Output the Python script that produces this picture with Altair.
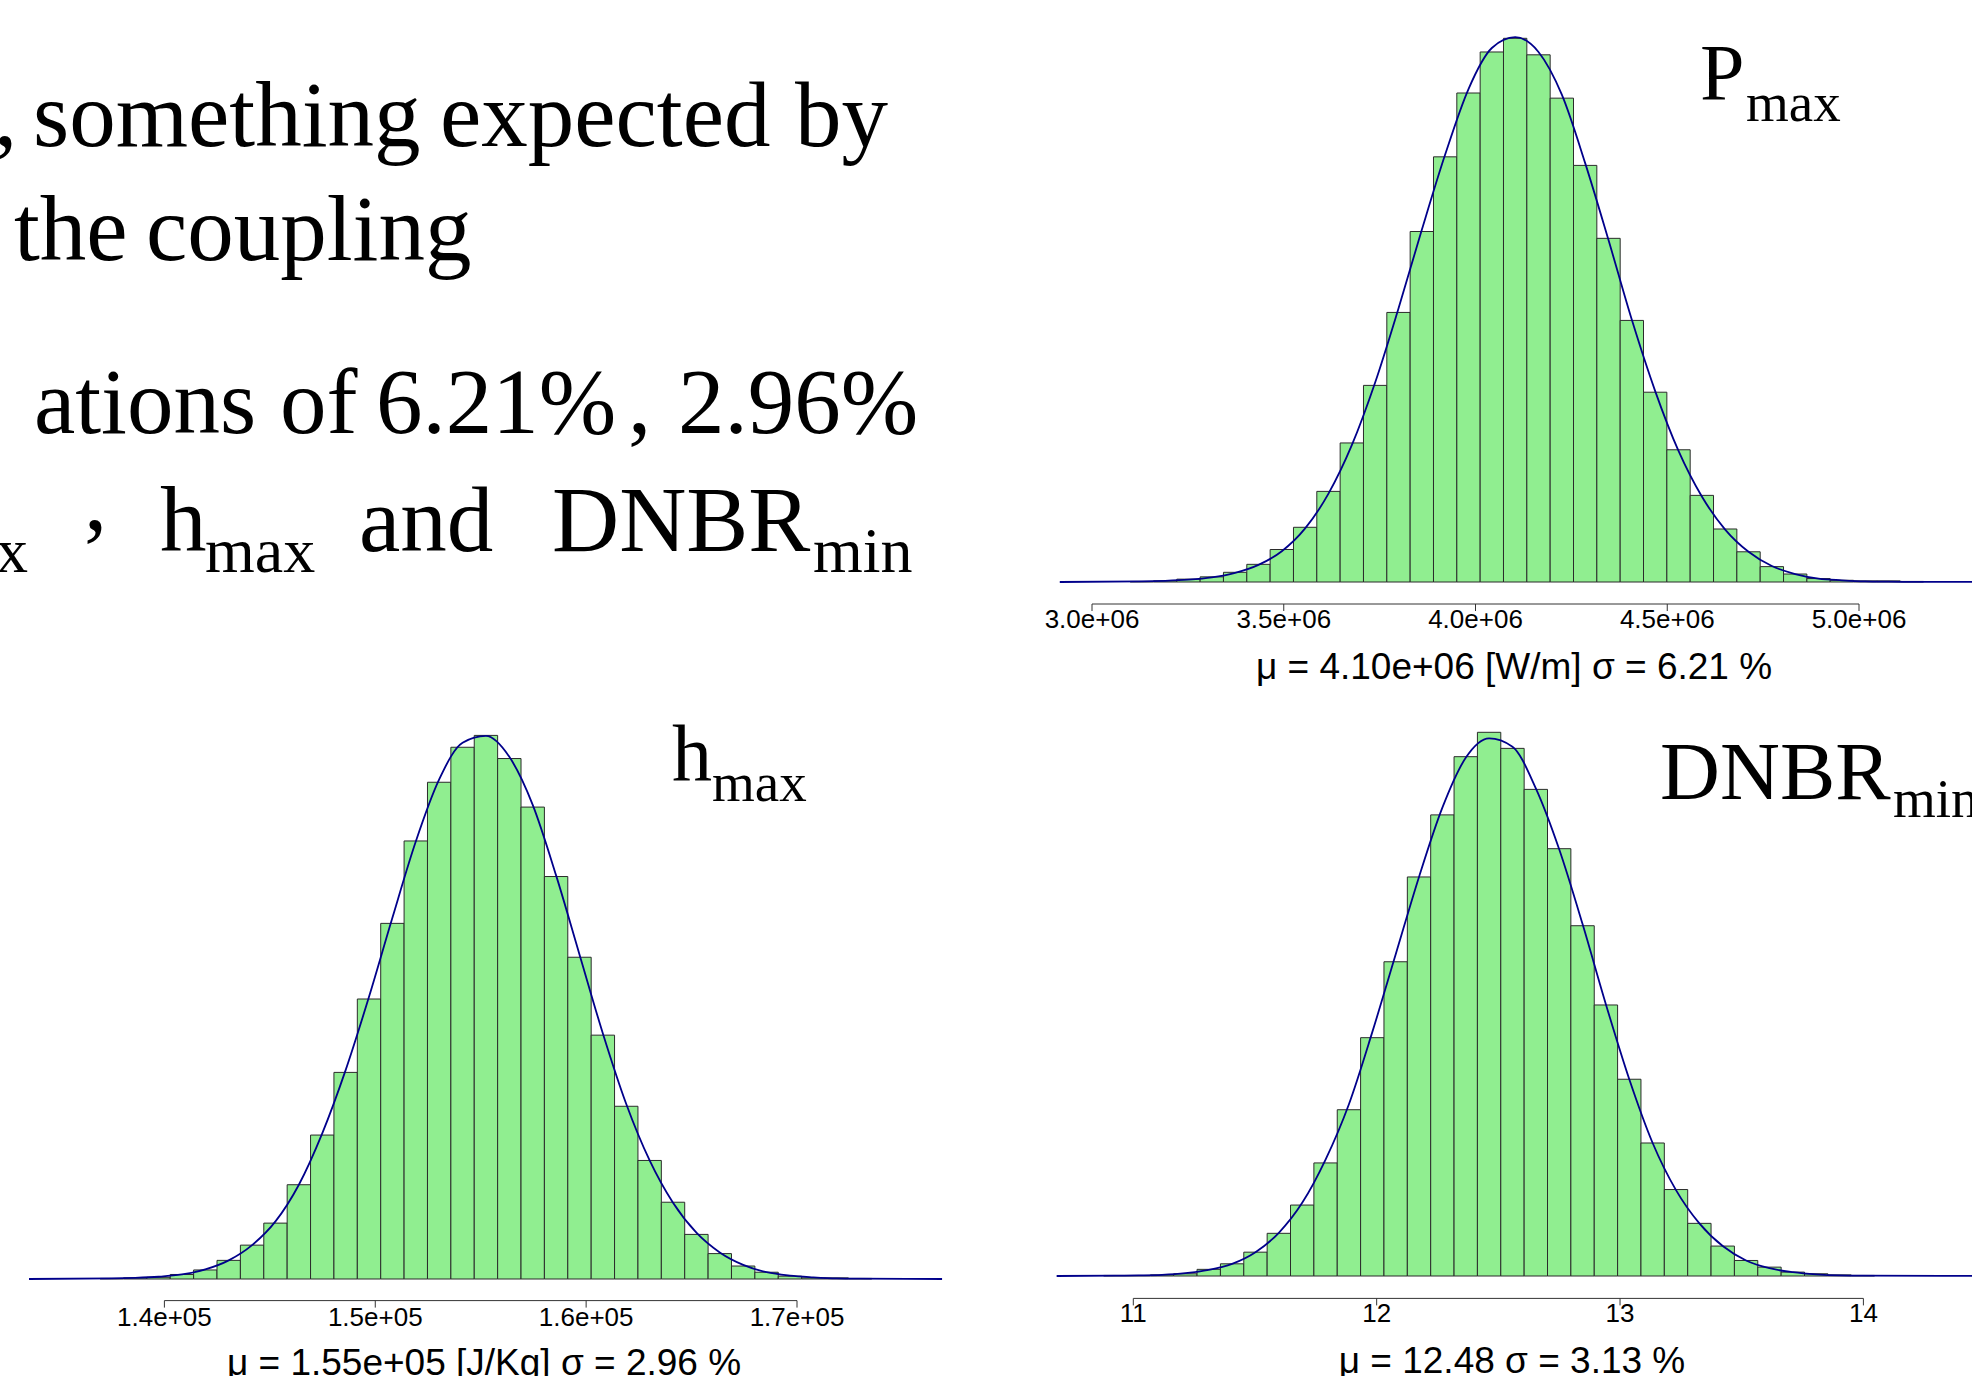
import altair as alt
import pandas as pd

# ---------------- slide text (top-left, cropped at the left edge) ----------------
slide_words = [",", "something", "expected", "by",
               "the", "coupling",
               "ations", "of", "6.21%", ",", "2.96%",
               "x", ",", "h", "max", "and", "DNBR", "min"]
# layout for each word: (left x, baseline y, font size)
slide_layout = [(-6, 146, 93), (33, 146, 93), (440, 146, 93), (795, 146, 93),
                (14, 260, 93), (146, 260, 93),
                (34, 433, 93), (280, 433, 93), (376, 433, 93), (628, 433, 93), (678, 433, 93),
                (-4, 572, 64), (84, 530, 93), (160, 551, 93), (205, 572, 64),
                (359, 551, 93), (552, 551, 93), (813, 572, 64)]

# ---------------- P_max histogram ----------------
pmax_bin_start = 3.0994e6
pmax_bin_width = 0.06085e6
pmax_counts = [1, 2, 5, 9, 17, 31, 57, 96, 159, 244, 345, 473, 615, 746, 858, 930, 954,
               925, 849, 731, 603, 459, 333, 232, 152, 93, 53, 27, 14, 6, 3, 2, 2, 1]
pmax_curve = [1, 2, 4, 8, 16, 30, 54, 94, 155, 240, 350, 480, 618, 750, 865, 937, 956,
              930, 855, 735, 600, 460, 335, 230, 150, 92, 53, 28, 14, 6, 3, 1, 0.5, 0.2]
pmax_curve_ends = [2.916e6, 5.45e6]
pmax_ticks = [3.0e6, 3.5e6, 4.0e6, 4.5e6, 5.0e6]
pmax_tick_labels = ["3.0e+06", "3.5e+06", "4.0e+06", "4.5e+06", "5.0e+06"]
pmax_stats = "\u03bc = 4.10e+06 [W/m] \u03c3 = 6.21 %"
pmax_title = ["P", "max"]

# ---------------- h_max histogram ----------------
hmax_bin_start = 1.3695e5
hmax_bin_width = 1109.0
hmax_counts = [1, 2, 3, 8, 16, 33, 60, 99, 167, 255, 366, 496, 630, 776, 880, 942, 963,
               922, 836, 713, 570, 432, 306, 210, 136, 79, 45, 23, 12, 5, 2, 2, 1]
hmax_curve = [1, 2, 4, 8, 17, 33, 60, 102, 167, 258, 370, 500, 640, 775, 885, 950, 962,
              925, 840, 715, 575, 435, 310, 210, 135, 82, 47, 25, 12, 6, 3, 1, 0.5]
hmax_curve_ends = [1.3358e5, 1.7688e5]
hmax_ticks = [1.4e5, 1.5e5, 1.6e5, 1.7e5]
hmax_tick_labels = ["1.4e+05", "1.5e+05", "1.6e+05", "1.7e+05"]
hmax_stats = "\u03bc = 1.55e+05 [J/Kg] \u03c3 = 2.96 %"
hmax_title = ["h", "max"]

# ---------------- DNBR_min histogram ----------------
dnbr_bin_start = 10.878
dnbr_bin_width = 0.0960
dnbr_counts = [1, 1, 2, 4, 12, 22, 43, 77, 128, 204, 300, 430, 567, 720, 832, 937, 981,
               952, 878, 771, 632, 489, 355, 240, 156, 95, 54, 28, 16, 7, 4, 2, 1]
dnbr_curve = [0.5, 1, 2, 5, 11, 22, 43, 78, 132, 210, 310, 440, 580, 720, 845, 935, 970,
              955, 880, 770, 635, 490, 355, 240, 155, 95, 54, 28, 14, 7, 3, 1, 0.5]
dnbr_curve_ends = [10.685, 14.6]
dnbr_ticks = [11, 12, 13, 14]
dnbr_tick_labels = ["11", "12", "13", "14"]
dnbr_stats = "\u03bc = 12.48  \u03c3 = 3.13 %"
dnbr_title = ["DNBR", "min"]

# ---------------- styles / layout ----------------
GREEN = "#90EE90"
BAR_STROKE = "#2b2b2b"
BLUE = "#00008B"
SERIF = "Liberation Serif"
SANS = "Liberation Sans"

pmax_layout = dict(size=(972, 705), xref=(3.0e6, 92.0, 5.0e6, 859.0),
                   yref=(582.0, 38.3, 954), axis_y=604.0, label_y=627.5,
                   stats_xy=(514, 679),
                   title_xy=[(700, 100, 80), (746, 121, 55)])
hmax_layout = dict(size=(1000, 671), xref=(1.4e5, 164.4, 1.7e5, 797.0),
                   yref=(574.0, 30.4, 963), axis_y=595.6, label_y=620.5,
                   stats_xy=(484, 670),
                   title_xy=[(672, 75, 80), (712, 96, 55)])
dnbr_layout = dict(size=(972, 671), xref=(11.0, 133.3, 14.0, 863.4),
                   yref=(571.0, 27.3, 981), axis_y=593.4, label_y=616.5,
                   stats_xy=(512, 668),
                   title_xy=[(660, 94, 83), (893, 112, 55)])


def text_piece(word, x, y, size, font, align="left"):
    return alt.Chart(pd.DataFrame({"t": [word]})).mark_text(
        font=font, fontSize=size, align=align, baseline="alphabetic",
        color="black", clip=True
    ).encode(x=alt.value(x), y=alt.value(y), text="t:N")


def hist_panel(start, bw, counts, curve, ends, ticks, labels, stats, title, lay):
    W, H = lay["size"]
    v1, p1, v2, p2 = lay["xref"]
    upp = (v2 - v1) / (p2 - p1)
    xs = alt.Scale(domain=[v1 - p1 * upp, v1 + (W - p1) * upp], nice=False, zero=False)
    base, top_px, top_count = lay["yref"]
    cpp = top_count / (base - top_px)
    ys = alt.Scale(domain=[(base - H) * cpp, base * cpp], nice=False, zero=False)

    n = len(counts)
    bars = pd.DataFrame({
        "lo": [start + i * bw for i in range(n)],
        "hi": [start + (i + 1) * bw for i in range(n)],
        "count": counts,
        "zero": [0] * n,
    })
    curve_df = pd.DataFrame({
        "x": [ends[0]] + [start + (i + 0.5) * bw for i in range(n)] + [ends[1]],
        "y": [0] + list(curve) + [0],
    })
    tick_df = pd.DataFrame({"v": ticks, "label": labels})
    span_df = pd.DataFrame({"a": [ticks[0]], "b": [ticks[-1]]})

    layers = [
        alt.Chart(bars).mark_rect(clip=True, fill=GREEN, stroke=BAR_STROKE, strokeWidth=1).encode(
            x=alt.X("lo:Q", scale=xs, axis=None), x2="hi:Q",
            y=alt.Y("count:Q", scale=ys, axis=None), y2="zero:Q"),
        alt.Chart(curve_df).mark_line(clip=True, color=BLUE, strokeWidth=1.8,
                                      interpolate="monotone").encode(
            x=alt.X("x:Q", scale=xs, axis=None),
            y=alt.Y("y:Q", scale=ys, axis=None)),
        alt.Chart(span_df).mark_rule(color="#333333", strokeWidth=1).encode(
            x=alt.X("a:Q", scale=xs, axis=None), x2="b:Q",
            y=alt.value(lay["axis_y"])),
        alt.Chart(tick_df).mark_rule(color="#333333", strokeWidth=1).encode(
            x=alt.X("v:Q", scale=xs, axis=None),
            y=alt.value(lay["axis_y"]), y2=alt.value(lay["axis_y"] + 7)),
        alt.Chart(tick_df).mark_text(font=SANS, fontSize=26, align="center",
                                     baseline="alphabetic", color="black").encode(
            x=alt.X("v:Q", scale=xs, axis=None),
            y=alt.value(lay["label_y"]), text="label:N"),
        text_piece(stats, lay["stats_xy"][0], lay["stats_xy"][1], 37, SANS, align="center"),
    ]
    for word, (tx, ty, tsz) in zip(title, lay["title_xy"]):
        layers.append(text_piece(word, tx, ty, tsz, SERIF))
    return alt.layer(*layers).properties(width=W, height=H)


text_panel = alt.layer(
    *[text_piece(w, x, y, s, SERIF) for w, (x, y, s) in zip(slide_words, slide_layout)]
).properties(width=1000, height=705)

pmax_panel = hist_panel(pmax_bin_start, pmax_bin_width, pmax_counts, pmax_curve,
                        pmax_curve_ends, pmax_ticks, pmax_tick_labels, pmax_stats,
                        pmax_title, pmax_layout)
hmax_panel = hist_panel(hmax_bin_start, hmax_bin_width, hmax_counts, hmax_curve,
                        hmax_curve_ends, hmax_ticks, hmax_tick_labels, hmax_stats,
                        hmax_title, hmax_layout)
dnbr_panel = hist_panel(dnbr_bin_start, dnbr_bin_width, dnbr_counts, dnbr_curve,
                        dnbr_curve_ends, dnbr_ticks, dnbr_tick_labels, dnbr_stats,
                        dnbr_title, dnbr_layout)

top_row = alt.hconcat(text_panel, pmax_panel, spacing=0)
bottom_row = alt.hconcat(hmax_panel, dnbr_panel, spacing=0)

chart = alt.vconcat(top_row, bottom_row, spacing=0).properties(
    padding=0, background="white"
).configure_view(stroke=None)

chart.save("out.html", embed_options={"renderer": "svg", "actions": False})
